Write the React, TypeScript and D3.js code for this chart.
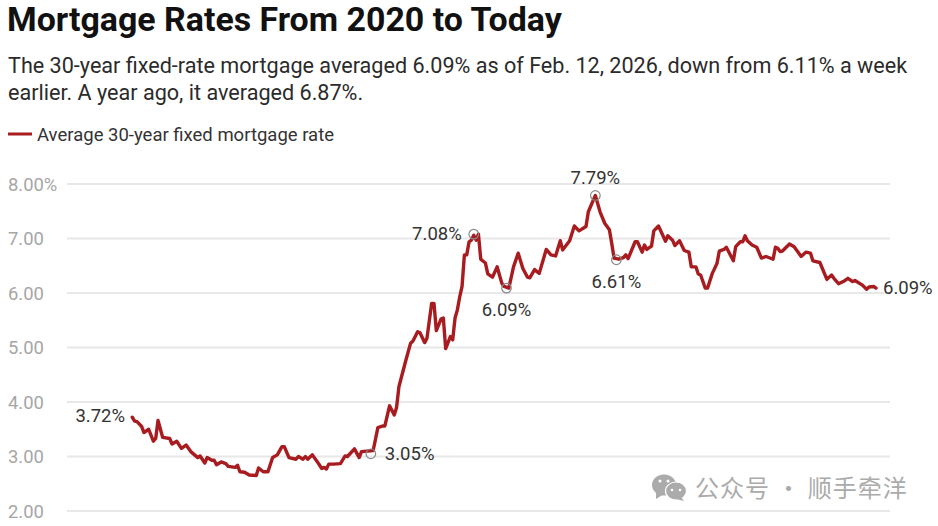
import React from 'react';
import * as d3 from 'd3';

// weeks since the first week of January 2020
const weeks = [
  0, 1, 2, 4, 5, 7, 9, 10, 11, 13, 16, 17, 19, 21, 23, 25, 28, 29, 31, 32, 34, 35, 36, 38, 40, 41, 44, 45, 46, 48,
  50, 53, 54, 56, 58, 60, 62, 64, 65, 67, 70, 71, 73, 74, 75, 77, 79, 81, 82, 83, 84, 86, 89, 91, 92, 95, 97, 98, 103,
  105, 107, 108, 110, 112, 113, 114, 117, 119, 120, 122, 123, 125, 126, 128, 129, 130, 132, 133, 134, 136, 137, 138,
  139, 140, 141, 142, 143, 144, 145, 146, 147, 148, 149, 151, 152, 154, 156, 158, 159, 161, 163, 165, 167, 169, 170,
  172, 174, 177, 179, 181, 183, 184, 187, 189, 191, 194, 195, 198, 200, 202, 204, 205, 206, 208, 210, 211, 212, 215,
  216, 218, 219, 220, 222, 223, 225, 228, 229, 231, 232, 234, 236, 238, 239, 241, 242, 243, 245, 246, 248, 250, 251,
  253, 254, 257, 258, 260, 261, 262, 263, 265, 267, 269, 271, 274, 275, 276, 277, 278, 281, 283, 284, 286, 288, 290,
  291, 294, 297, 299, 300, 302, 304, 306, 308, 309, 312, 314, 315, 317, 318,
];

const rates = [
  3.72, 3.65, 3.64, 3.55, 3.44, 3.5, 3.28, 3.33, 3.66, 3.35, 3.33, 3.23, 3.28, 3.15, 3.21, 3.09, 2.98, 3.01, 2.88, 2.98,
  2.93, 2.93, 2.85, 2.9, 2.87, 2.82, 2.8, 2.84, 2.72, 2.71, 2.66, 2.65, 2.79, 2.72, 2.72, 2.98, 3.03, 3.18, 3.18, 2.98,
  2.95, 3.0, 2.95, 3.0, 2.95, 3.03, 2.91, 2.78, 2.8, 2.77, 2.86, 2.86, 2.87, 3.01, 3.0, 3.14, 2.98, 3.09, 3.11,
  3.53, 3.56, 3.56, 3.93, 3.76, 3.9, 4.28, 4.77, 5.08, 5.12, 5.29, 5.27, 5.09, 5.17, 5.81, 5.81, 5.31, 5.52, 5.54, 4.98,
  5.2, 5.14, 5.54, 5.69, 5.93, 6.12, 6.7, 6.7, 6.94, 6.97, 7.06, 6.97, 7.08, 6.62, 6.55, 6.35, 6.29, 6.48, 6.18, 6.12,
  6.09, 6.48, 6.73, 6.45, 6.29, 6.28, 6.43, 6.36, 6.8, 6.7, 6.68, 6.96, 6.79, 6.96, 7.23, 7.14, 7.22, 7.49, 7.79, 7.49,
  7.28, 7.16, 6.91, 6.64, 6.62, 6.65, 6.7, 6.63, 6.94, 6.94, 6.75, 6.88, 6.8, 6.86, 7.14, 7.23, 6.95, 7.05, 6.97, 6.87,
  6.96, 6.78, 6.75, 6.48, 6.48, 6.35, 6.33, 6.09, 6.09, 6.36, 6.54, 6.77, 6.8, 6.84, 6.59, 6.85, 6.94, 6.94, 7.05, 6.96,
  6.88, 6.84, 6.64, 6.67, 6.62, 6.84, 6.82, 6.76, 6.77, 6.9, 6.85, 6.79, 6.67, 6.75, 6.73, 6.59, 6.56, 6.25, 6.33, 6.27,
  6.17, 6.21, 6.27, 6.21, 6.23, 6.15, 6.07, 6.11, 6.12, 6.09,
];

const yTicks = [8, 7, 6, 5, 4, 3, 2];

const noteWeeks = [102, 146, 160, 198, 207];
const noteRates = [3.05, 7.08, 6.09, 7.79, 6.61];

const subtitleLines = [
  'The 30-year fixed-rate mortgage averaged 6.09% as of Feb. 12, 2026, down from 6.11% a week',
  'earlier. A year ago, it averaged 6.87%.',
];

const x = d3.scaleLinear().domain([0, 318]).range([132.3, 876]);
const y = d3.scaleLinear().domain([2, 8]).range([511, 184]);

const line = d3
  .line<number>()
  .x((_, i) => x(weeks[i]))
  .y(d => y(d));

const pct = (v: number) => `${v.toFixed(2)}%`;

const red = '#a81c20';
const font = 'Roboto, sans-serif';

const App: React.FC = () => {
  return (
    <div style={{ position: 'absolute', left: 0, top: 0, background: '#fff' }}>
      <svg width={938} height={526} style={{ display: 'block' }} fontFamily={font}>
        <rect width={938} height={526} fill="#fff" />

        <text x={7} y={31} fontSize={33.9} fontWeight={700} fill="#111">
          Mortgage Rates From 2020 to Today
        </text>
        {subtitleLines.map((d, i) => (
          <text key={d} x={8} y={73 + i * 27} fontSize={21.6} fill="#2b2b2b">
            {d}
          </text>
        ))}

        {/* Legend */}
        <line x1={8} x2={32} y1={134} y2={134} stroke={red} strokeWidth={3} />
        <text x={37} y={141} fontSize={18.5} fill="#333">
          Average 30-year fixed mortgage rate
        </text>

        {/* Grid and y labels */}
        {yTicks.map(t => (
          <g key={t}>
            <line x1={67} x2={890} y1={y(t)} y2={y(t)} stroke="#e8e8e8" strokeWidth={2} />
            <text x={8} y={y(t) + 6.5} fontSize={18.4} fill="#a6a6a6">
              {t === 8 ? pct(t) : t.toFixed(2)}
            </text>
          </g>
        ))}

        <path d={line(rates) ?? ''} fill="none" stroke={red} strokeWidth={3.4} strokeLinejoin="round" strokeLinecap="round" />

        {/* Annotated points */}
        {noteWeeks.map((w, i) => (
          <circle key={w} cx={x(w)} cy={y(noteRates[i])} r={4.8} fill="none" stroke="#8a8a8a" strokeWidth={1.2} />
        ))}
        <g fontSize={18.5} fill="#333">
          <text x={125} y={422} textAnchor="end">{pct(rates[0])}</text>
          <text x={x(102) + 14} y={y(3.05) + 6}>{pct(noteRates[0])}</text>
          <text x={x(146) - 12} y={y(7.08) + 6} textAnchor="end">{pct(noteRates[1])}</text>
          <text x={x(160)} y={y(6.09) + 28} textAnchor="middle">{pct(noteRates[2])}</text>
          <text x={x(198)} y={y(7.79) - 11} textAnchor="middle">{pct(noteRates[3])}</text>
          <text x={x(207)} y={y(6.61) + 28} textAnchor="middle">{pct(noteRates[4])}</text>
          <text x={883} y={y(6.09) + 6}>{pct(rates[rates.length - 1])}</text>
        </g>

        {/* Watermark */}
        <g fill="#ababab">
          <ellipse cx={664} cy={485} rx={12} ry={10.5} />
          <path d="M656 491 L656 499 L664 494 Z" />
          <ellipse cx={676} cy={491} rx={10.5} ry={9} stroke="#fff" strokeWidth={1.2} />
          <path d="M681 497 L684 501 L676 499 Z" />
          <g fill="#fff">
            <circle cx={660} cy={481} r={1.5} />
            <circle cx={668} cy={481} r={1.5} />
            <circle cx={672} cy={490} r={1.3} />
            <circle cx={680} cy={490} r={1.3} />
          </g>
          <text x={695} y={497} fontSize={24} fontFamily="'Noto Sans CJK SC'" letterSpacing={1}>
            公众号 · 顺手牵洋
          </text>
        </g>
      </svg>
    </div>
  );
};

export default App;
